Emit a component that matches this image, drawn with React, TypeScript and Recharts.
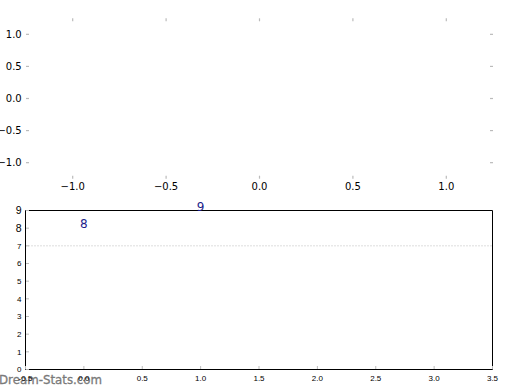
import React from 'react';
import { ComposedChart, XAxis, YAxis, Scatter, ReferenceLine } from 'recharts';

// ---- data ----
const topXTicks = [-1, -0.5, 0, 0.5, 1];
const topYTicks = [-1, -0.5, 0, 0.5, 1];
const topXDomain: [number, number] = [-1.25, 1.25];
const topYDomain: [number, number] = [-1.25, 1.25];

const bottomXTicks = [-0.5, 0, 0.5, 1, 1.5, 2, 2.5, 3, 3.5];
const bottomYTicks = [0, 1, 2, 3, 4, 5, 6, 7, 8, 9];
const bottomXDomain: [number, number] = [-0.5, 3.5];
const bottomYDomain: [number, number] = [0, 9];
const refLineY = 7;

const labelX = [0, 1];
const labelY = [8, 9];
const labelText = ['8', '9'];

const watermark = 'Dream-Stats.com';

const labelPoints = labelX.map((x, i) => ({ x, y: labelY[i], text: labelText[i] }));

// ---- styles ----
const TICK = '#bbbbbb';
const DV = 'DejaVu Sans';
const LIB = 'Liberation Sans';
const fmtTop = (v: number) => (v < 0 ? '\u2212' : '') + Math.abs(v).toFixed(1);
const fmtBottom = (v: number) => v.toFixed(1);

// top chart ticks
const TopBottomTick = (p: any) => (
  <g>
    <line x1={p.x} x2={p.x} y1={p.y} y2={p.y - 3} stroke={TICK} strokeWidth={1.2} />
    <text x={p.x} y={p.y + 11.3} textAnchor="middle" fontSize={10} fontFamily={DV} fill="#000">
      {fmtTop(p.payload.value)}
    </text>
  </g>
);
const TopTopTick = (p: any) => (
  <line x1={p.x} x2={p.x} y1={p.y} y2={p.y + 3} stroke={TICK} strokeWidth={1.2} />
);
const TopLeftTick = (p: any) => (
  <g>
    <line x1={p.x} x2={p.x + 3} y1={p.y} y2={p.y} stroke={TICK} strokeWidth={1.2} />
    <text x={p.x - 4.3} y={p.y} dy="0.36em" textAnchor="end" fontSize={10} fontFamily={DV} fill="#000">
      {fmtTop(p.payload.value)}
    </text>
  </g>
);
const RightTick = (p: any) => (
  <line x1={p.x} x2={p.x - 3} y1={p.y} y2={p.y} stroke={TICK} strokeWidth={1.2} />
);

// bottom chart ticks
const BotBottomTick = (p: any) => (
  <g>
    <line x1={p.x} x2={p.x} y1={p.y - 0.5} y2={p.y - 3.5} stroke={TICK} strokeWidth={1} />
    <text x={p.x} y={p.y + 11.5} textAnchor="middle" fontSize={8} fontFamily={LIB} fill="#000">
      {fmtBottom(p.payload.value)}
    </text>
  </g>
);
const BotTopTick = (p: any) => (
  <line x1={p.x} x2={p.x} y1={p.y + 0.5} y2={p.y + 3.5} stroke={TICK} strokeWidth={1} />
);
const BotLeftTick = (p: any) => {
  const big = p.payload.value >= 8;
  return (
    <g>
      <line x1={p.x + 0.5} x2={p.x + 3.5} y1={p.y} y2={p.y} stroke={TICK} strokeWidth={1} />
      <text
        x={p.x - 4}
        y={p.y}
        dy="0.36em"
        textAnchor="end"
        fontSize={big ? 10.5 : 8}
        fontFamily={LIB}
        fill="#000"
      >
        {p.payload.value}
      </text>
    </g>
  );
};
const BotRightTick = (p: any) => (
  <line x1={p.x - 0.5} x2={p.x - 3.5} y1={p.y} y2={p.y} stroke={TICK} strokeWidth={1} />
);

const TextMark = (p: any) => (
  <text x={p.cx} y={p.cy} textAnchor="middle" fontSize={12} fontFamily={DV} fill="#1c1c8a">
    {p.payload.text}
  </text>
);

export default function App() {
  return (
    <div style={{ position: 'absolute', left: 0, top: 0, width: 520, height: 390, background: '#fff' }}>
      <svg width={520} height={390} style={{ position: 'absolute', left: 0, top: 0 }}>
        <text x={-1} y={384} fontSize={11.8} fontFamily={DV} fill="#7a7a7a" stroke="#7a7a7a" strokeWidth={0.3}>
          {watermark}
        </text>
      </svg>
      <div style={{ position: 'absolute', left: 0, top: 0 }}>
        <ComposedChart width={520} height={200} margin={{ top: 0, right: 0, bottom: 0, left: 0 }} data={[]}>
          <XAxis
            xAxisId="b"
            type="number"
            dataKey="x"
            orientation="bottom"
            domain={topXDomain}
            ticks={topXTicks}
            interval={0}
            height={21.3}
            axisLine={false}
            tickLine={false}
            tickSize={0}
            tickMargin={0}
            allowDataOverflow
            tick={TopBottomTick}
          />
          <XAxis
            xAxisId="t"
            type="number"
            dataKey="x"
            orientation="top"
            domain={topXDomain}
            ticks={topXTicks}
            interval={0}
            height={18.3}
            axisLine={false}
            tickLine={false}
            tickSize={0}
            tickMargin={0}
            allowDataOverflow
            tick={TopTopTick}
          />
          <YAxis
            yAxisId="l"
            type="number"
            dataKey="y"
            orientation="left"
            domain={topYDomain}
            ticks={topYTicks}
            interval={0}
            width={26}
            axisLine={false}
            tickLine={false}
            tickSize={0}
            tickMargin={0}
            allowDataOverflow
            tick={TopLeftTick}
          />
          <YAxis
            yAxisId="r"
            type="number"
            dataKey="y"
            orientation="right"
            domain={topYDomain}
            ticks={topYTicks}
            interval={0}
            width={27}
            axisLine={false}
            tickLine={false}
            tickSize={0}
            tickMargin={0}
            allowDataOverflow
            tick={RightTick}
          />
          <Scatter data={[]} xAxisId="b" yAxisId="l" isAnimationActive={false} />
        </ComposedChart>
      </div>
      <div style={{ position: 'absolute', left: 0, top: 200 }}>
        <ComposedChart width={520} height={190} margin={{ top: 0, right: 0, bottom: 0, left: 0 }}>
          <ReferenceLine
            y={refLineY}
            xAxisId="b"
            yAxisId="l"
            stroke="#bbbbbb"
            strokeWidth={1}
            strokeDasharray="1 2"
          />
          <XAxis
            xAxisId="b"
            type="number"
            dataKey="x"
            orientation="bottom"
            domain={bottomXDomain}
            ticks={bottomXTicks}
            interval={0}
            height={20.5}
            axisLine={{ stroke: '#000', strokeWidth: 1 }}
            tickLine={false}
            tickSize={0}
            tickMargin={0}
            tick={BotBottomTick}
          />
          <XAxis
            xAxisId="t"
            type="number"
            dataKey="x"
            orientation="top"
            domain={bottomXDomain}
            ticks={bottomXTicks}
            interval={0}
            height={10.5}
            axisLine={{ stroke: '#000', strokeWidth: 1 }}
            tickLine={false}
            tickSize={0}
            tickMargin={0}
            tick={BotTopTick}
          />
          <YAxis
            yAxisId="l"
            type="number"
            dataKey="y"
            orientation="left"
            domain={bottomYDomain}
            ticks={bottomYTicks}
            interval={0}
            width={25.5}
            axisLine={{ stroke: '#000', strokeWidth: 1 }}
            tickLine={false}
            tickSize={0}
            tickMargin={0}
            tick={BotLeftTick}
          />
          <YAxis
            yAxisId="r"
            type="number"
            dataKey="y"
            orientation="right"
            domain={bottomYDomain}
            ticks={bottomYTicks}
            interval={0}
            width={27.5}
            axisLine={{ stroke: '#000', strokeWidth: 1 }}
            tickLine={false}
            tickSize={0}
            tickMargin={0}
            tick={BotRightTick}
          />
          <Scatter
            data={labelPoints}
            xAxisId="b"
            yAxisId="l"
            isAnimationActive={false}
            shape={TextMark}
          />
        </ComposedChart>
      </div>
    </div>
  );
}
